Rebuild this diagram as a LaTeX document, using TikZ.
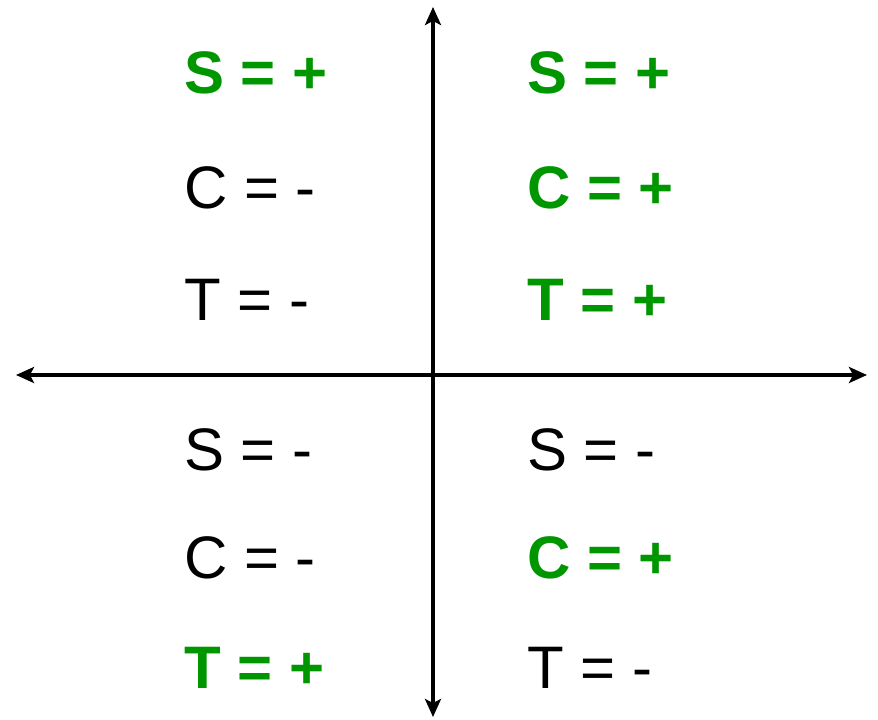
\documentclass[tikz,border=0pt]{standalone}
\usepackage{fontspec}
\setmainfont{Liberation Sans}
\usetikzlibrary{arrows.meta}
\definecolor{plusgreen}{RGB}{0,150,0}
\begin{document}
\begin{tikzpicture}[x=1pt,y=-1pt,
  axisline/.style={line width=3.2pt,-{Stealth[length=18pt,width=16pt,inset=4pt]}},
  lbl/.style={anchor=base west,inner sep=0pt,font=\fontsize{60}{62}\selectfont},
  plustxt/.style={lbl,text=plusgreen,font=\fontsize{60}{62}\selectfont\bfseries},
  minustxt/.style={lbl,text=black}]
\useasboundingbox (0,0) rectangle (878,720);
\coordinate (top) at (433,7);
\coordinate (bot) at (433,717);
\coordinate (lft) at (16,375);
\coordinate (rgt) at (867,375);
\coordinate (c) at (433,375);
\draw[axisline] (c) -- (top);
\draw[axisline] (c) -- (bot);
\draw[axisline] (c) -- (lft);
\draw[axisline] (c) -- (rgt);
\node[plustxt] (s1) at (184,93) {S = +};
\node[minustxt] (c1) at (184,208) {C = -};
\node[minustxt] (t1) at (184,320) {T = -};
\node[plustxt] (s2) at (527,93) {S = +};
\node[plustxt] (c2) at (527,208) {C = +};
\node[plustxt] (t2) at (527,320) {T = +};
\node[minustxt] (s3) at (184,470) {S = -};
\node[minustxt] (c3) at (184,578) {C = -};
\node[plustxt] (t3) at (184,688) {T = +};
\node[minustxt] (s4) at (527,470) {S = -};
\node[plustxt] (c4) at (527,578) {C = +};
\node[minustxt] (t4) at (527,688) {T = -};
\end{tikzpicture}
\end{document}
